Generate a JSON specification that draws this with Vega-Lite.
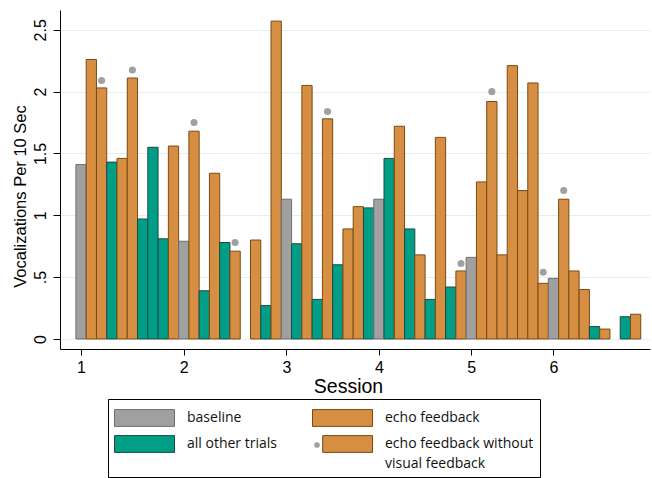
{
  "$schema": "https://vega.github.io/schema/vega-lite/v6.json",
  "width": 590,
  "height": 339,
  "autosize": {"type": "none"},
  "padding": {"left": 60, "top": 10, "right": 2, "bottom": 129},
  "config": {"view": {"stroke": null}, "font": "Liberation Sans"},
  "data": {
    "values": [
      {"bar": 0, "condition": "baseline", "rate": 1.41},
      {"bar": 1, "condition": "echo feedback", "rate": 2.26},
      {"bar": 2, "condition": "echo feedback without visual feedback", "rate": 2.03, "dot": 2.09},
      {"bar": 3, "condition": "all other trials", "rate": 1.43},
      {"bar": 4, "condition": "echo feedback", "rate": 1.46},
      {"bar": 5, "condition": "echo feedback without visual feedback", "rate": 2.11, "dot": 2.175},
      {"bar": 6, "condition": "all other trials", "rate": 0.97},
      {"bar": 7, "condition": "all other trials", "rate": 1.55},
      {"bar": 8, "condition": "all other trials", "rate": 0.81},
      {"bar": 9, "condition": "echo feedback", "rate": 1.56},
      {"bar": 10, "condition": "baseline", "rate": 0.79},
      {"bar": 11, "condition": "echo feedback without visual feedback", "rate": 1.68, "dot": 1.75},
      {"bar": 12, "condition": "all other trials", "rate": 0.39},
      {"bar": 13, "condition": "echo feedback", "rate": 1.34},
      {"bar": 14, "condition": "all other trials", "rate": 0.78},
      {"bar": 15, "condition": "echo feedback without visual feedback", "rate": 0.71, "dot": 0.78},
      {"bar": 17, "condition": "echo feedback", "rate": 0.8},
      {"bar": 18, "condition": "all other trials", "rate": 0.27},
      {"bar": 19, "condition": "echo feedback", "rate": 2.57},
      {"bar": 20, "condition": "baseline", "rate": 1.13},
      {"bar": 21, "condition": "all other trials", "rate": 0.77},
      {"bar": 22, "condition": "echo feedback", "rate": 2.05},
      {"bar": 23, "condition": "all other trials", "rate": 0.32},
      {"bar": 24, "condition": "echo feedback without visual feedback", "rate": 1.78, "dot": 1.84},
      {"bar": 25, "condition": "all other trials", "rate": 0.6},
      {"bar": 26, "condition": "echo feedback", "rate": 0.89},
      {"bar": 27, "condition": "echo feedback", "rate": 1.07},
      {"bar": 28, "condition": "all other trials", "rate": 1.06},
      {"bar": 29, "condition": "baseline", "rate": 1.13},
      {"bar": 30, "condition": "all other trials", "rate": 1.46},
      {"bar": 31, "condition": "echo feedback", "rate": 1.72},
      {"bar": 32, "condition": "all other trials", "rate": 0.89},
      {"bar": 33, "condition": "echo feedback", "rate": 0.68},
      {"bar": 34, "condition": "all other trials", "rate": 0.32},
      {"bar": 35, "condition": "echo feedback", "rate": 1.63},
      {"bar": 36, "condition": "all other trials", "rate": 0.42},
      {"bar": 37, "condition": "echo feedback without visual feedback", "rate": 0.55, "dot": 0.61},
      {"bar": 38, "condition": "baseline", "rate": 0.66},
      {"bar": 39, "condition": "echo feedback", "rate": 1.27},
      {"bar": 40, "condition": "echo feedback without visual feedback", "rate": 1.92, "dot": 2.0},
      {"bar": 41, "condition": "echo feedback", "rate": 0.68},
      {"bar": 42, "condition": "echo feedback", "rate": 2.21},
      {"bar": 43, "condition": "echo feedback", "rate": 1.2},
      {"bar": 44, "condition": "echo feedback", "rate": 2.07},
      {"bar": 45, "condition": "echo feedback without visual feedback", "rate": 0.45, "dot": 0.54},
      {"bar": 46, "condition": "baseline", "rate": 0.49},
      {"bar": 47, "condition": "echo feedback without visual feedback", "rate": 1.13, "dot": 1.2},
      {"bar": 48, "condition": "echo feedback", "rate": 0.55},
      {"bar": 49, "condition": "echo feedback", "rate": 0.4},
      {"bar": 50, "condition": "all other trials", "rate": 0.1},
      {"bar": 51, "condition": "echo feedback", "rate": 0.08},
      {"bar": 53, "condition": "all other trials", "rate": 0.18},
      {"bar": 54, "condition": "echo feedback", "rate": 0.2}
    ]
  },
  "layer": [
    {
      "mark": {"type": "bar", "width": 10.27, "strokeWidth": 1},
      "encoding": {
        "x": {
          "field": "bar",
          "type": "quantitative",
          "scale": {"domain": [-2.05, 55.4], "nice": false, "zero": false, "padding": 0},
          "axis": {
            "values": [0, 10, 20, 29, 38, 46],
            "labelExpr": "datum.value == 0 ? '1' : datum.value == 10 ? '2' : datum.value == 20 ? '3' : datum.value == 29 ? '4' : datum.value == 38 ? '5' : '6'",
            "grid": false,
            "tickSize": 6,
            "tickColor": "black",
            "domainColor": "black",
            "labelFontSize": 16,
            "labelColor": "black",
            "labelBaseline": "alphabetic",
            "labelPadding": 17,
            "labelFlush": false,
            "title": "Session",
            "titleFontSize": 19.5,
            "titleFontWeight": "normal",
            "titleColor": "black",
            "titleX": 288,
            "titleY": 43,
            "titleBaseline": "alphabetic"
          }
        },
        "y": {
          "field": "rate",
          "type": "quantitative",
          "scale": {"domain": [-0.081, 2.66], "nice": false, "zero": false, "padding": 0},
          "axis": {
            "values": [0, 0.5, 1, 1.5, 2, 2.5],
            "labelExpr": "datum.value == 0.5 ? '.5' : format(datum.value, '~g')",
            "labelAngle": -90,
            "labelAlign": "center",
            "labelBaseline": "alphabetic",
            "labelPadding": 8,
            "labelFontSize": 16,
            "labelColor": "black",
            "tickSize": 7,
            "tickColor": "black",
            "domainColor": "black",
            "grid": true,
            "gridColor": "#e6eded",
            "title": "Vocalizations Per 10 Sec",
            "titleFontSize": 16.5,
            "titleFontWeight": "normal",
            "titleColor": "black",
            "titleAngle": -90,
            "titleX": -35,
            "titleY": 186,
            "titleAlign": "center",
            "titleBaseline": "alphabetic"
          }
        },
        "y2": {"datum": 0},
        "fill": {
          "field": "condition",
          "type": "nominal",
          "scale": {
            "domain": ["baseline", "echo feedback", "all other trials", "echo feedback without visual feedback"],
            "range": ["#a0a0a0", "#d68f42", "#009e86", "#d68f42"]
          },
          "legend": {
            "orient": "none",
            "legendX": 48,
            "legendY": 389,
            "title": null,
            "columns": 2,
            "direction": "horizontal",
            "strokeColor": "black",
            "padding": 6,
            "symbolType": "M-1,-0.28H1V0.28H-1Z",
            "symbolSize": 3600,
            "symbolStrokeWidth": 1,
            "clipHeight": 26,
            "rowPadding": 0,
            "columnPadding": 35,
            "labelOffset": 12,
            "labelFont": "Open Sans",
            "labelFontSize": 14,
            "labelColor": "#111111",
            "labelLimit": 300,
            "gridAlign": "each",
            "labelExpr": "datum.value == 'echo feedback without visual feedback' ? ['echo feedback without', 'visual feedback'] : datum.label",
            "encode": {
              "legend": {
                "update": {
                  "width": {"value": 467}
                }
              },
              "symbols": {
                "update": {
                  "shape": [
                    {"test": "datum.value == 'echo feedback without visual feedback'", "value": "M-0.66,-0.28H1V0.28H-0.66Z"},
                    {"value": "M-1,-0.28H1V0.28H-1Z"}
                  ],
                  "stroke": [
                    {"test": "datum.value == 'echo feedback without visual feedback'", "value": "transparent"},
                    {"scale": "stroke", "field": "value"}
                  ],
                  "opacity": {"value": 1}
                }
              },
              "labels": {
                "update": {
                  "lineHeight": {"value": 20}
                }
              }
            }
          }
        },
        "stroke": {
          "field": "condition",
          "type": "nominal",
          "scale": {
            "domain": ["baseline", "echo feedback", "all other trials", "echo feedback without visual feedback"],
            "range": ["#6e6e6e", "#7a4a12", "#1d4a40", "#7a4a12"]
          },
          "legend": null
        }
      }
    },
    {
      "transform": [{"filter": "isValid(datum.dot)"}],
      "mark": {"type": "point", "filled": true, "size": 50, "color": "#a0a0a0", "opacity": 1, "strokeWidth": 0},
      "encoding": {
        "x": {"field": "bar", "type": "quantitative", "title": "Session"},
        "y": {"field": "dot", "type": "quantitative", "title": "Vocalizations Per 10 Sec"},
        "shape": {
          "datum": "no visual feedback",
          "type": "nominal",
          "scale": {"range": ["circle"]},
          "legend": {
            "orient": "none",
            "legendX": 252,
            "legendY": 430,
            "title": null,
            "padding": 0,
            "labelExpr": "''",
            "labelFontSize": 10,
            "symbolSize": 32,
            "symbolFillColor": "#a0a0a0",
            "symbolStrokeWidth": 0,
            "symbolOpacity": 1
          }
        }
      }
    }
  ]
}
